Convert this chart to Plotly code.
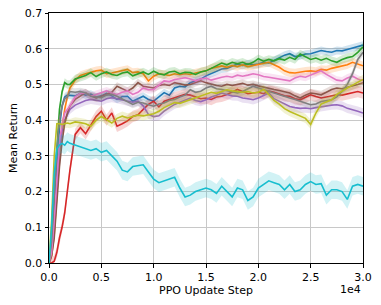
import plotly.graph_objects as go

# x positions (PPO update steps)
steps = [0, 250, 500, 750, 1000, 1250, 1500, 1750] + list(range(2000, 30001, 500))

blue = [0.0, 0.04, 0.15, 0.28, 0.38, 0.44, 0.465, 0.47,
        0.47, 0.468, 0.475, 0.47, 0.473, 0.465, 0.468, 0.475, 0.468, 0.458,
        0.466, 0.467, 0.453, 0.46, 0.467, 0.458, 0.453, 0.465, 0.477, 0.47,
        0.49, 0.495, 0.493, 0.505, 0.51, 0.515, 0.524, 0.53, 0.535, 0.543,
        0.545, 0.55, 0.557, 0.553, 0.558, 0.555, 0.557, 0.562, 0.56, 0.567,
        0.575, 0.582, 0.586, 0.578, 0.58, 0.585, 0.586, 0.59, 0.595, 0.592,
        0.59, 0.595, 0.594, 0.598, 0.602, 0.605, 0.61]
orange = [0.0, 0.02, 0.08, 0.2, 0.3, 0.38, 0.43, 0.465,
          0.49, 0.512, 0.525, 0.53, 0.535, 0.538, 0.54, 0.53, 0.532, 0.535,
          0.54, 0.542, 0.533, 0.535, 0.53, 0.51, 0.523, 0.53, 0.528, 0.525,
          0.53, 0.527, 0.53, 0.528, 0.532, 0.536, 0.538, 0.545, 0.548, 0.552,
          0.548, 0.553, 0.55, 0.555, 0.55, 0.553, 0.555, 0.56, 0.562, 0.555,
          0.548, 0.538, 0.533, 0.532, 0.535, 0.537, 0.538, 0.536, 0.542, 0.54,
          0.545, 0.548, 0.55, 0.555, 0.562, 0.558, 0.552]
green = [0.0, 0.06, 0.2, 0.33, 0.43, 0.48, 0.505, 0.50,
         0.50, 0.515, 0.52, 0.525, 0.533, 0.522, 0.53, 0.535, 0.528, 0.525,
         0.532, 0.535, 0.524, 0.53, 0.535, 0.528, 0.537, 0.53, 0.527, 0.535,
         0.537, 0.53, 0.534, 0.533, 0.528, 0.535, 0.538, 0.545, 0.552, 0.56,
         0.555, 0.562, 0.558, 0.562, 0.556, 0.562, 0.572, 0.565, 0.57, 0.566,
         0.572, 0.568, 0.576, 0.57, 0.585, 0.578, 0.57, 0.574, 0.568, 0.573,
         0.566, 0.562, 0.57, 0.575, 0.578, 0.59, 0.605]
red = [0.0, 0.0, 0.005, 0.03, 0.07, 0.1, 0.14, 0.2,
       0.26, 0.36, 0.379, 0.362, 0.385, 0.41, 0.425, 0.4, 0.42, 0.383,
       0.39, 0.398, 0.41, 0.415, 0.43, 0.444, 0.453, 0.437, 0.453, 0.458,
       0.462, 0.468, 0.472, 0.47, 0.465, 0.46, 0.462, 0.458, 0.465, 0.467,
       0.472, 0.478, 0.486, 0.48, 0.474, 0.476, 0.478, 0.474, 0.481, 0.478,
       0.472, 0.468, 0.467, 0.46, 0.457, 0.465, 0.471, 0.466, 0.462, 0.465,
       0.468, 0.471, 0.47, 0.474, 0.478, 0.48, 0.476]
purple = [0.0, 0.03, 0.1, 0.22, 0.32, 0.37, 0.4, 0.415,
          0.43, 0.442, 0.448, 0.455, 0.458, 0.455, 0.453, 0.46, 0.463, 0.46,
          0.457, 0.455, 0.45, 0.453, 0.44, 0.416, 0.41, 0.412, 0.425, 0.435,
          0.444, 0.45, 0.456, 0.462, 0.455, 0.452, 0.457, 0.465, 0.47, 0.476,
          0.472, 0.468, 0.467, 0.462, 0.46, 0.457, 0.462, 0.47, 0.476, 0.46,
          0.452, 0.445, 0.438, 0.435, 0.433, 0.434, 0.432, 0.435, 0.438, 0.44,
          0.442, 0.443, 0.44, 0.433, 0.43, 0.425, 0.42]
brown = [0.0, 0.02, 0.07, 0.17, 0.27, 0.34, 0.39, 0.42,
         0.44, 0.458, 0.467, 0.477, 0.468, 0.462, 0.467, 0.472, 0.478, 0.495,
         0.487, 0.481, 0.49, 0.505, 0.495, 0.493, 0.49, 0.497, 0.5, 0.497,
         0.505, 0.502, 0.498, 0.5, 0.505, 0.51, 0.505, 0.5, 0.497, 0.495,
         0.5, 0.497, 0.5, 0.503, 0.498, 0.5, 0.496, 0.492, 0.488, 0.486,
         0.483, 0.48, 0.476, 0.468, 0.462, 0.47, 0.476, 0.474, 0.471, 0.478,
         0.486, 0.49, 0.488, 0.492, 0.495, 0.5, 0.505]
pink = [0.0, 0.03, 0.12, 0.24, 0.34, 0.39, 0.42, 0.43,
        0.44, 0.465, 0.475, 0.476, 0.467, 0.472, 0.478, 0.482, 0.476, 0.472,
        0.478, 0.482, 0.472, 0.478, 0.49, 0.485, 0.486, 0.497, 0.51, 0.508,
        0.514, 0.516, 0.519, 0.515, 0.51, 0.515, 0.518, 0.512, 0.517, 0.52,
        0.523, 0.52, 0.526, 0.523, 0.526, 0.53, 0.527, 0.522, 0.52, 0.518,
        0.515, 0.512, 0.51, 0.518, 0.523, 0.52, 0.526, 0.533, 0.538, 0.528,
        0.52, 0.512, 0.51, 0.518, 0.523, 0.515, 0.51]
gray = [0.0, 0.06, 0.19, 0.32, 0.4, 0.44, 0.46, 0.465,
        0.48, 0.478, 0.48, 0.476, 0.467, 0.465, 0.463, 0.47, 0.472, 0.467,
        0.46, 0.453, 0.444, 0.45, 0.448, 0.443, 0.439, 0.445, 0.448, 0.455,
        0.458, 0.465, 0.47, 0.485, 0.478, 0.481, 0.49, 0.495, 0.488, 0.486,
        0.482, 0.478, 0.476, 0.48, 0.488, 0.495, 0.49, 0.485, 0.481, 0.475,
        0.47, 0.466, 0.462, 0.458, 0.452, 0.448, 0.443, 0.445, 0.452, 0.455,
        0.457, 0.465, 0.48, 0.5, 0.53, 0.57, 0.59]
olive = [0.0, 0.12, 0.3, 0.39, 0.39, 0.388, 0.39, 0.392,
         0.39, 0.395, 0.393, 0.39, 0.383, 0.4, 0.41, 0.4, 0.392, 0.405,
         0.411, 0.406, 0.41, 0.414, 0.412, 0.416, 0.418, 0.425, 0.435, 0.442,
         0.449, 0.447, 0.452, 0.456, 0.462, 0.466, 0.471, 0.478, 0.475, 0.481,
         0.485, 0.482, 0.481, 0.478, 0.48, 0.476, 0.478, 0.486, 0.472, 0.455,
         0.445, 0.432, 0.424, 0.418, 0.412, 0.405, 0.388, 0.42, 0.445, 0.452,
         0.457, 0.472, 0.482, 0.49, 0.498, 0.506, 0.514]
cyan = [0.0, 0.1, 0.25, 0.32, 0.33, 0.335, 0.33, 0.34,
        0.335, 0.33, 0.325, 0.32, 0.315, 0.32, 0.31, 0.315, 0.3, 0.285,
        0.26, 0.255, 0.27, 0.272, 0.275, 0.255, 0.235, 0.225, 0.23, 0.235,
        0.24, 0.21, 0.185, 0.19, 0.2, 0.205, 0.21, 0.205, 0.195, 0.215,
        0.2, 0.185, 0.21, 0.205, 0.175, 0.185, 0.21, 0.22, 0.23, 0.225,
        0.22, 0.205, 0.22, 0.2, 0.205, 0.22, 0.228, 0.22, 0.222, 0.19,
        0.205, 0.205, 0.2, 0.178, 0.215, 0.22, 0.215]

series = [blue, orange, green, red, purple, brown, pink, gray, olive, cyan]
band_halfwidth = [0.011, 0.012, 0.012, 0.016, 0.013, 0.011, 0.011, 0.011, 0.013, 0.026]
colors = ["#1f77b4", "#ff7f0e", "#2ca02c", "#d62728", "#9467bd",
          "#8c564b", "#e377c2", "#7f7f7f", "#bcbd22", "#17becf"]

x_tick_vals = [0, 5000, 10000, 15000, 20000, 25000, 30000]
x_tick_text = ["0.0", "0.5", "1.0", "1.5", "2.0", "2.5", "3.0"]
y_tick_vals = [0.0, 0.1, 0.2, 0.3, 0.4, 0.5, 0.6, 0.7]
y_tick_text = ["0.0", "0.1", "0.2", "0.3", "0.4", "0.5", "0.6", "0.7"]


def rgba(hexc, a):
    h = hexc.lstrip("#")
    return "rgba(%d,%d,%d,%.2f)" % (int(h[0:2], 16), int(h[2:4], 16), int(h[4:6], 16), a)


fig = go.Figure()
for vals, hw, col in zip(series, band_halfwidth, colors):
    upper = [max(v + hw, 0) if i > 0 else v for i, v in enumerate(vals)]
    lower = [max(v - hw, 0) if i > 0 else v for i, v in enumerate(vals)]
    fig.add_trace(go.Scatter(x=steps, y=upper, mode="lines", line=dict(width=0),
                             hoverinfo="skip", showlegend=False))
    fig.add_trace(go.Scatter(x=steps, y=lower, mode="lines", line=dict(width=0),
                             fill="tonexty", fillcolor=rgba(col, 0.2),
                             hoverinfo="skip", showlegend=False))
    fig.add_trace(go.Scatter(x=steps, y=vals, mode="lines",
                             line=dict(color=col, width=1.6), showlegend=False))

axis_common = dict(showline=True, linecolor="black", linewidth=1, mirror=True,
                   ticks="outside", ticklen=3.5, tickwidth=1, tickcolor="black",
                   showgrid=True, gridcolor="#c8c8c8", gridwidth=1.2,
                   zeroline=False, automargin=False,
                   tickfont=dict(size=11, color="black"))

fig.update_layout(
    width=381, height=305, autosize=False,
    margin=dict(l=49, r=18, t=13, b=42),
    paper_bgcolor="white", plot_bgcolor="white",
    font=dict(family="DejaVu Sans", size=11, color="black"),
    xaxis=dict(range=[0, 30000], tickvals=x_tick_vals, ticktext=x_tick_text,
               title=dict(text="PPO Update Step", font=dict(size=11), standoff=2),
               **axis_common),
    yaxis=dict(range=[0, 0.7], tickvals=y_tick_vals, ticktext=y_tick_text,
               title=dict(text="Mean Return", font=dict(size=11), standoff=4),
               **axis_common),
    annotations=[dict(text="1e4", x=1.0, y=0, xref="paper", yref="paper",
                      xanchor="right", yanchor="top", yshift=-18,
                      showarrow=False, font=dict(size=11, color="black"))],
)

fig.write_html("out.html", config={"displayModeBar": False},
               post_script="document.body.style.margin='0';document.body.style.overflow='hidden';")
